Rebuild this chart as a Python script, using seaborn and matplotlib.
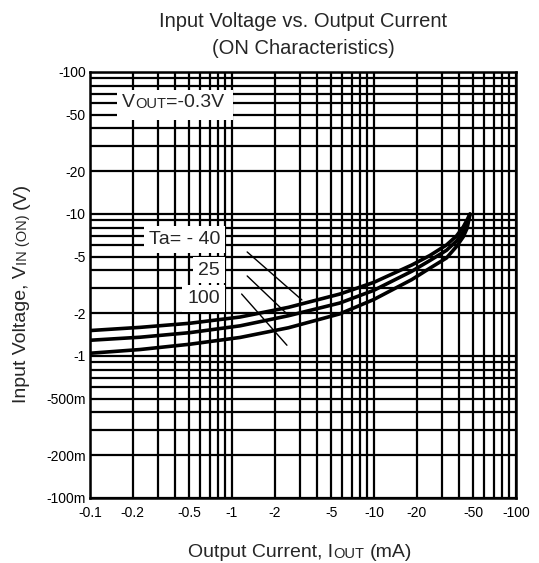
import numpy as np
import pandas as pd
import matplotlib
matplotlib.use('Agg')
import matplotlib.pyplot as plt
import matplotlib.ticker as mticker
from matplotlib.patches import Rectangle
import seaborn as sns

# ---- values (magnitudes, axes show negative values)
current_ma = [0.1, 0.225, 0.506, 1.14, 2.5, 5.76, 10, 18.5, 24.8, 32.5, 38.2, 42.6, 45.4, 47.5]
vin_m40 = [1.51, 1.59, 1.70, 1.88, 2.2, 2.73, 3.3, 4.37, 5.1, 6.05, 7.0, 8.1, 9.1, 10.0]
vin_25 = [1.29, 1.355, 1.46, 1.63, 1.92, 2.36, 2.9, 3.95, 4.7, 5.55, 6.45, 7.45, 8.6, 9.95]
vin_100 = [1.045, 1.11, 1.21, 1.35, 1.58, 1.98, 2.5, 3.45, 4.15, 4.9, 5.9, 6.9, 7.95, 9.9]
temp_labels = ['Ta= - 40', '25', '100']

x_ticks = [0.1, 0.2, 0.5, 1, 2, 5, 10, 20, 50, 100]
x_ticklabels = ['-0.1', '-0.2', '-0.5', '-1', '-2', '-5', '-10', '-20', '-50', '-100']
y_ticks = [0.1, 0.2, 0.5, 1, 2, 5, 10, 20, 50, 100]
y_ticklabels = ['-100m', '-200m', '-500m', '-1', '-2', '-5', '-10', '-20', '-50', '-100']

# leader lines from the temperature labels to the curves
leader_from = [(1.28, 5.4), (1.28, 3.66), (1.17, 2.73)]
leader_to = [(3.11, 2.48), (2.48, 1.95), (2.44, 1.19)]

df = pd.concat([
    pd.DataFrame({'current': current_ma, 'vin': vin_m40, 'Ta': '-40'}),
    pd.DataFrame({'current': current_ma, 'vin': vin_25, 'Ta': '25'}),
    pd.DataFrame({'current': current_ma, 'vin': vin_100, 'Ta': '100'}),
], ignore_index=True)

sns.set_theme(style='white')
plt.rcParams['font.family'] = ['Liberation Sans', 'DejaVu Sans']

fig = plt.figure(figsize=(5.39, 5.63), dpi=100)
ax = fig.add_axes([0.167, 0.1155, 0.790, 0.7567])

sns.lineplot(data=df, x='current', y='vin', hue='Ta', units='Ta', estimator=None,
             palette={'-40': 'black', '25': 'black', '100': 'black'},
             linewidth=2.6, legend=False, sort=False, ax=ax, zorder=5)

ax.set_xscale('log')
ax.set_yscale('log')
ax.set_xlim(0.1, 100)
ax.set_ylim(0.1, 100)

ax.xaxis.set_major_locator(mticker.FixedLocator(x_ticks))
ax.xaxis.set_major_formatter(mticker.FixedFormatter(x_ticklabels))
ax.yaxis.set_major_locator(mticker.FixedLocator(y_ticks))
ax.yaxis.set_major_formatter(mticker.FixedFormatter(y_ticklabels))
ax.xaxis.set_minor_locator(mticker.LogLocator(base=10, subs=np.arange(1, 10), numticks=20))
ax.yaxis.set_minor_locator(mticker.LogLocator(base=10, subs=np.arange(1, 10), numticks=20))
ax.xaxis.set_minor_formatter(mticker.NullFormatter())
ax.yaxis.set_minor_formatter(mticker.NullFormatter())
ax.tick_params(which='both', length=0, labelsize=10, colors='black')
ax.tick_params(axis='x', pad=6)
ax.tick_params(axis='y', pad=3)

ax.grid(True, which='both', color='black', linewidth=1.6)
ax.set_axisbelow(True)
for sp in ax.spines.values():
    sp.set_color('black')
    sp.set_linewidth(1.8)
ax.set_xlabel('')
ax.set_ylabel('')

# ---- V_OUT label with white background
ax.add_patch(Rectangle((0.063, 0.887), 0.273, 0.071, transform=ax.transAxes,
                       facecolor='white', edgecolor='none', zorder=3))
v1 = ax.text(0.075, 0.908, 'V', transform=ax.transAxes, fontsize=14,
             ha='left', va='bottom', zorder=4)
v2 = ax.annotate('OUT', xy=(1, 0), xycoords=v1, fontsize=10.5,
                 ha='left', va='bottom', zorder=4)
ax.annotate('=-0.3V', xy=(1, 0), xycoords=v2, fontsize=14,
            ha='left', va='bottom', zorder=4)

# ---- temperature labels
label_y = [0.606, 0.535, 0.469]
for lab, ly in zip(temp_labels, label_y):
    ax.text(0.305, ly, lab, transform=ax.transAxes, fontsize=14,
            ha='right', va='center', zorder=4,
            bbox=dict(boxstyle='square,pad=0.25', fc='white', ec='none'))
for p0, p1 in zip(leader_from, leader_to):
    ax.annotate('', xy=p1, xytext=p0,
                arrowprops=dict(arrowstyle='-', color='black', lw=1.0,
                                shrinkA=0, shrinkB=0), zorder=4)

# ---- title
fig.text(0.562, 0.979, 'Input Voltage vs. Output Current\n(ON Characteristics)',
         ha='center', va='top', fontsize=14.5, linespacing=1.55)

# ---- x label: Output Current, I_OUT (mA)
x1 = fig.text(0.349, 0.0107, 'Output Current, I', fontsize=14, ha='left', va='baseline')
x2 = ax.annotate('OUT', xy=(1, 0), xycoords=x1, fontsize=10.5,
                 ha='left', va='bottom', annotation_clip=False)
ax.annotate('(mA)', xy=(1, 0), xycoords=x2, xytext=(4, 0), textcoords='offset points',
            fontsize=14, ha='left', va='bottom', annotation_clip=False)

# ---- y label: Input Voltage, V_IN (ON) (V)
y1 = fig.text(0.055, 0.284, 'Input Voltage, V', fontsize=14, rotation=90,
              ha='right', va='bottom')
y2 = ax.annotate('IN (ON)', xy=(1, 1), xycoords=y1, fontsize=10.5, rotation=90,
                 ha='right', va='bottom', annotation_clip=False)
ax.annotate('(V)', xy=(1, 1), xycoords=y2, xytext=(0, 4), textcoords='offset points',
            fontsize=14, rotation=90, ha='right', va='bottom', annotation_clip=False)

fig.savefig('out.png', dpi=100)
